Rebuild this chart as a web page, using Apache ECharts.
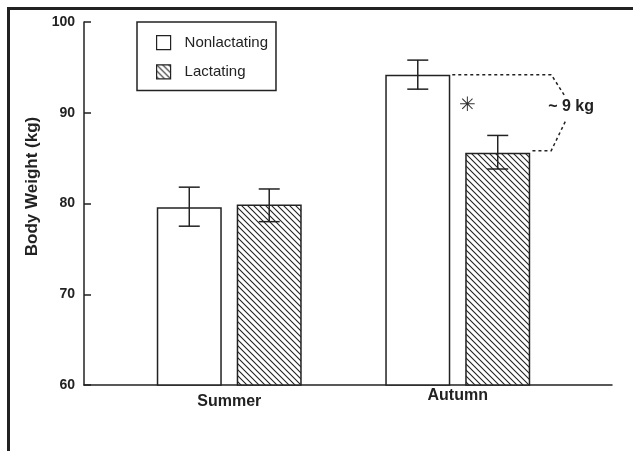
<!DOCTYPE html>
<html><head><meta charset="utf-8">
<script src="https://cdn.jsdelivr.net/npm/echarts@6/dist/echarts.min.js"></script>
<style>html,body{margin:0;padding:0;background:#fff}#c{width:633px;height:451px}</style>
</head><body><div id="c"></div>
<script>
const categories = ['Summer', 'Autumn'];
const seriesNames = ['Nonlactating', 'Lactating'];
const nonlactating = [79.6, 94.2];
const lactating = [79.9, 85.6];
const nonlactatingErrLow = [77.5, 92.6];
const nonlactatingErrHigh = [81.8, 95.8];
const lactatingErrLow = [78.0, 83.8];
const lactatingErrHigh = [81.6, 87.5];
const yMin = 60, yMax = 100, yStep = 10;
const yAxisTitle = 'Body Weight (kg)';
const annotationText = '~ 9 kg';
const significanceMark = '✳';

const FONT = "'Liberation Sans', Arial, Helvetica, sans-serif";
const INK = '#222';
const BAR_W = 65, GAP = 0.23;
const OFFSET = BAR_W * (1 + GAP) / 2;

function hatch() {
  const s = 6;
  const c = document.createElement('canvas');
  c.width = s; c.height = s;
  const g = c.getContext('2d');
  g.fillStyle = '#fff'; g.fillRect(0, 0, s, s);
  g.strokeStyle = INK; g.lineWidth = 1.1;
  g.beginPath();
  g.moveTo(-1, -1); g.lineTo(s + 1, s + 1);
  g.moveTo(-1, s - 1); g.lineTo(1, s + 1);
  g.moveTo(s - 1, -1); g.lineTo(s + 1, 1);
  g.stroke();
  return c;
}
const hatchFill = { image: hatch(), repeat: 'repeat' };

function errData(lo, hi) { return categories.map((c, i) => [i, lo[i], hi[i]]); }
function errSeries(lo, hi, sign) {
  return {
    type: 'custom', xAxisIndex: 1, yAxisIndex: 1, z: 5,
    data: errData(lo, hi),
    encode: { x: 0, y: [1, 2] },
    renderItem: function (params, api) {
      const a = api.coord([api.value(0), api.value(1)]);
      const b = api.coord([api.value(0), api.value(2)]);
      const x = a[0] + sign * OFFSET;
      const cw = 10.5;
      const st = { stroke: INK, lineWidth: 1.5 };
      return { type: 'group', children: [
        { type: 'line', shape: { x1: x, y1: a[1], x2: x, y2: b[1] }, style: st },
        { type: 'line', shape: { x1: x - cw, y1: a[1], x2: x + cw, y2: a[1] }, style: st },
        { type: 'line', shape: { x1: x - cw, y1: b[1], x2: x + cw, y2: b[1] }, style: st }
      ]};
    }
  };
}

const chart = echarts.init(document.getElementById('c'), null, { renderer: 'canvas' });
const option = {
  backgroundColor: '#fff',
  animation: false,
  textStyle: { fontFamily: FONT },
  grid: [
    { left: 84, right: 21, top: 22, bottom: 66 },
    { left: 115, right: 61, top: 22, bottom: 66 }
  ],
  legend: {
    orient: 'vertical', left: 137, top: 22,
    borderColor: INK, borderWidth: 1.5, borderRadius: 0,
    padding: [13, 8, 11, 19],
    itemWidth: 14, itemHeight: 14, itemGap: 14,
    icon: 'rect',
    textStyle: { fontSize: 15, color: INK, fontFamily: FONT, padding: [0, 0, 0, 9] },
    data: [
      { name: seriesNames[0], itemStyle: { color: '#fff', borderColor: INK, borderWidth: 1.2 } },
      { name: seriesNames[1], itemStyle: { color: hatchFill, borderColor: INK, borderWidth: 1.2 } }
    ]
  },
  xAxis: [
    { gridIndex: 0, type: 'category', data: categories, boundaryGap: true,
      axisLine: { lineStyle: { color: INK, width: 1.5 } }, axisTick: { show: false },
      axisLabel: { show: false }, splitLine: { show: false } },
    { gridIndex: 1, type: 'category', boundaryGap: true,
      data: [{ value: categories[0], textStyle: { padding: [6, 0, 0, 0] } }, categories[1]],
      axisLine: { show: false }, axisTick: { show: false },
      axisLabel: { margin: 3, fontSize: 16, fontWeight: 'bold', color: INK, fontFamily: FONT } }
  ],
  yAxis: [
    { gridIndex: 0, type: 'value', min: yMin, max: yMax, interval: yStep,
      name: yAxisTitle, nameLocation: 'middle', nameGap: 42, nameRotate: 90,
      nameTextStyle: { fontSize: 17, fontWeight: 'bold', color: INK, fontFamily: FONT, padding: [0, 0, 0, 34] },
      axisLine: { show: true, lineStyle: { color: INK, width: 1.5 } },
      axisTick: { show: true, inside: true, length: 7, lineStyle: { color: INK, width: 1.5 } },
      axisLabel: { margin: 9, fontSize: 14, fontWeight: 'bold', color: INK, fontFamily: FONT },
      splitLine: { show: false } },
    { gridIndex: 1, type: 'value', min: yMin, max: yMax, interval: yStep, show: false,
      splitLine: { show: false } }
  ],
  series: [
    { name: seriesNames[0], type: 'bar', xAxisIndex: 1, yAxisIndex: 1, data: nonlactating,
      barWidth: BAR_W, barGap: (GAP * 100) + '%',
      itemStyle: { color: '#fff', borderColor: INK, borderWidth: 1.5 } },
    { name: seriesNames[1], type: 'bar', xAxisIndex: 1, yAxisIndex: 1, data: lactating,
      barWidth: BAR_W, barGap: (GAP * 100) + '%',
      itemStyle: { color: hatchFill, borderColor: INK, borderWidth: 1.5 } },
    errSeries(nonlactatingErrLow, nonlactatingErrHigh, -1),
    errSeries(lactatingErrLow, lactatingErrHigh, 1)
  ]
};
chart.setOption(option);

// annotations positioned from the data through the chart's own scales
const pTop = chart.convertToPixel({ gridIndex: 1 }, [categories[1], nonlactating[1]]);
const pBot = chart.convertToPixel({ gridIndex: 1 }, [categories[1], lactating[1]]);
const nlRight = pTop[0] - OFFSET + BAR_W / 2;
const lRight = pBot[0] + OFFSET + BAR_W / 2;
const yT = pTop[1], yB = pBot[1];
const mid = (yT + yB) / 2;
const kinkX = lRight + 21, vertX = kinkX + 14;
const dash = { stroke: '#222', lineWidth: 1.5, lineDash: [3, 3] };
chart.setOption({
  graphic: [
    { type: 'polyline', silent: true, shape: { points: [[8.5, 451], [8.5, 8.5], [633, 8.5]] },
      style: { stroke: INK, lineWidth: 3, fill: null } },
    { type: 'polyline', silent: true, shape: { points: [[nlRight + 2, yT], [kinkX, yT], [vertX, mid - 17]] },
      style: Object.assign({ fill: null }, dash) },
    { type: 'polyline', silent: true, shape: { points: [[vertX, mid + 8], [kinkX, yB - 2], [lRight + 2, yB - 2]] },
      style: Object.assign({ fill: null }, dash) },
    { type: 'text', silent: true, x: kinkX - 3, y: mid - 7,
      style: { text: annotationText, font: 'bold 16px ' + FONT, fill: INK, verticalAlign: 'middle', align: 'left' } },
    { type: 'text', silent: true, x: nlRight + 17, y: mid - 8,
      style: { text: significanceMark, font: '20px DejaVu Sans', fill: '#333', verticalAlign: 'middle', align: 'center' } }
  ]
});
</script></body></html>
